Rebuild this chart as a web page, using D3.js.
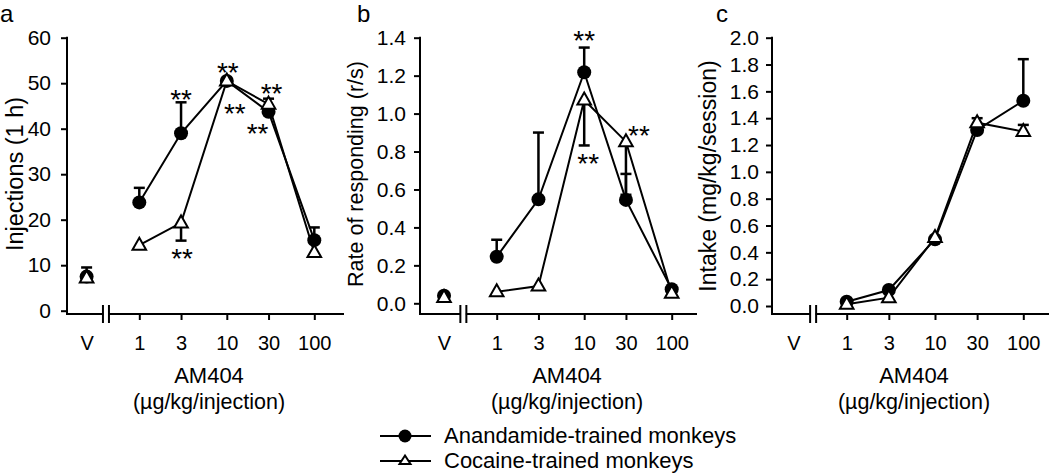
<!DOCTYPE html>
<html>
<head>
<meta charset="utf-8">
<script src="https://cdn.jsdelivr.net/npm/d3@7"></script>
<style>
  body { margin: 0; background: #fff; }
  text { font-family: "Liberation Sans", Arial, sans-serif; fill: #000; }
</style>
</head>
<body>
<script>
// doses; the vehicle (V) is plotted at 0.25 on the log axis
const doses = [0.25, 1, 3, 10, 30, 100];
const doseLabels = ['V', '1', '3', '10', '30', '100'];

// panel a: injections (1 h); errors are one-sided (sign = direction)
const injAnand = [7.5, 23.8, 39.0, 50.5, 43.7, 15.5];
const injAnandErr = [2.0, 3.2, 6.8, 0, 0, 2.8];
const injCoc = [7.2, 14.4, 19.3, 50.5, 45.4, 12.8];
const injCocErr = [0, 0, -3.9, 0, 1.2, 0];

// panel b: rate of responding (r/s)
const rateAnand = [0.04, 0.245, 0.548, 1.218, 0.545, 0.074];
const rateAnandErr = [0, 0.09, 0.352, 0.13, 0.137, 0];
const rateCoc = [0.03, 0.061, 0.091, 1.072, 0.852, 0.053];
const rateCocErr = [0, 0, 0, -0.24, -0.28, 0];

// panel c: intake (mg/kg/session), no vehicle value
const intakeAnand = [null, 0.032, 0.119, 0.497, 1.312, 1.53];
const intakeAnandErr = [0, 0, 0, 0, 0, 0.31];
const intakeCoc = [null, 0.013, 0.062, 0.51, 1.366, 1.30];
const intakeCocErr = [0, 0, 0, 0, 0.034, 0.05];

// significance marks: [dose, value, x nudge]
const starsA = [[3, 47.8, 0], [3, 12.9, 1], [10, 53.8, 1], [10, 44.8, 8], [30, 49.2, 3], [30, 40.4, -11]];
const starsB = [[10, 1.42, 0], [10, 0.773, 4], [30, 0.922, 13]];
const starsC = [];

const seriesNames = ['Anandamide-trained monkeys', 'Cocaine-trained monkeys'];

const W = 1050, H = 475;
const axisY = 314;

const svg = d3.select('body').append('svg')
  .attr('width', W)
  .attr('height', H);

const panels = [
  { letter: 'a', lx: 0, x0: 67, xr: [139.3, 314.3], dom: [0, 60], yr: [310.7, 37.7],
    ticks: d3.range(0, 61, 10), fmt: d3.format('d'), pad: 10,
    title: 'Injections (1 h)', tfs: 23.5, tx: 23, ty: 174, cx: 209,
    anand: injAnand, anandErr: injAnandErr, coc: injCoc, cocErr: injCocErr, stars: starsA },
  { letter: 'b', lx: 357, x0: 420, xr: [496.7, 671.7], dom: [0, 1.4], yr: [303.3, 37.7],
    ticks: d3.range(0, 1.41, 0.2), fmt: d3.format('.1f'), pad: 8,
    title: 'Rate of responding (r/s)', tfs: 21.5, tx: 363, ty: 174, cx: 567,
    anand: rateAnand, anandErr: rateAnandErr, coc: rateCoc, cocErr: rateCocErr, stars: starsB },
  { letter: 'c', lx: 716, x0: 772, xr: [846.7, 1023.3], dom: [0, 2.0], yr: [306, 37.7],
    ticks: d3.range(0, 2.01, 0.2), fmt: d3.format('.1f'), pad: 7,
    title: 'Intake (mg/kg/session)', tfs: 23, tx: 716, ty: 176, cx: 914,
    anand: intakeAnand, anandErr: intakeAnandErr, coc: intakeCoc, cocErr: intakeCocErr, stars: starsC }
];

const triPath = 'M0,-7.5L6.8,4.5L-6.8,4.5Z';

function drawPanel(p) {
  const g = svg.append('g');
  const x = d3.scaleLog().domain([1, 100]).range(p.xr);
  const y = d3.scaleLinear().domain(p.dom).range(p.yr);
  const xEnd = p.x0 + 277;

  // panel letter
  g.append('text')
    .attr('x', p.lx).attr('y', 22)
    .style('font-size', '24px')
    .text(p.letter);

  // y axis
  const yAxis = g.append('g')
    .attr('transform', `translate(${p.x0},0)`)
    .call(d3.axisLeft(y).tickValues(p.ticks).tickFormat(p.fmt).tickSize(6).tickPadding(p.pad));
  yAxis.select('.domain').remove();
  yAxis.selectAll('line').attr('stroke', '#000').attr('stroke-width', 2);
  yAxis.selectAll('text').style('font-size', '21px').attr('font-family', null);

  g.append('line')
    .attr('x1', p.x0).attr('x2', p.x0)
    .attr('y1', y(p.dom[1]) - 1).attr('y2', axisY + 1)
    .attr('stroke', '#000').attr('stroke-width', 2);

  // x axis
  const xAxis = g.append('g')
    .attr('transform', `translate(0,${axisY})`)
    .call(d3.axisBottom(x).tickValues(doses).tickFormat((d, i) => doseLabels[i]).tickSize(6).tickPadding(16));
  xAxis.select('.domain').remove();
  xAxis.selectAll('line').attr('stroke', '#000').attr('stroke-width', 2);
  xAxis.selectAll('.tick').filter(d => d === doses[0]).select('line').remove();
  xAxis.selectAll('text').style('font-size', '20px').attr('font-family', null);

  g.append('line')
    .attr('x1', p.x0).attr('x2', xEnd)
    .attr('y1', axisY).attr('y2', axisY)
    .attr('stroke', '#000').attr('stroke-width', 2);

  // axis break
  const bx = (x(doses[0]) + x(1)) / 2 - 7;
  g.append('rect')
    .attr('x', bx - 2.5).attr('y', axisY - 3).attr('width', 5).attr('height', 6)
    .attr('fill', '#fff');
  [bx - 3, bx + 3].forEach(v => {
    g.append('line')
      .attr('x1', v).attr('x2', v)
      .attr('y1', axisY - 9).attr('y2', axisY + 9)
      .attr('stroke', '#000').attr('stroke-width', 2);
  });

  // axis titles
  g.append('text')
    .attr('transform', `translate(${p.tx},${p.ty}) rotate(-90)`)
    .attr('text-anchor', 'middle')
    .style('font-size', p.tfs + 'px')
    .text(p.title);
  g.append('text')
    .attr('x', p.cx).attr('y', 383)
    .attr('text-anchor', 'middle')
    .style('font-size', '22px')
    .text('AM404');
  g.append('text')
    .attr('x', p.cx).attr('y', 409)
    .attr('text-anchor', 'middle')
    .style('font-size', '21.5px')
    .text('(\u00b5g/kg/injection)');

  const series = [
    { vals: p.anand, err: p.anandErr, mark: 'circle' },
    { vals: p.coc, err: p.cocErr, mark: 'tri' }
  ];

  const line = d3.line()
    .defined(d => d.v !== null)
    .x(d => x(d.dose))
    .y(d => y(d.v));

  series.forEach(s => {
    const pts = doses.map((d, i) => ({ dose: d, v: s.vals[i], e: s.err[i] }));
    g.append('path')
      .datum(pts.slice(1))
      .attr('d', line)
      .attr('fill', 'none')
      .attr('stroke', '#000')
      .attr('stroke-width', 2);
    s.pts = pts;
  });

  series.forEach(s => {
    s.pts.filter(d => d.v !== null && d.e).forEach(d => {
      const xe = x(d.dose), y1 = y(d.v), y2 = y(d.v + d.e);
      g.append('line')
        .attr('x1', xe).attr('x2', xe).attr('y1', y1).attr('y2', y2)
        .attr('stroke', '#000').attr('stroke-width', 2.5);
      g.append('line')
        .attr('x1', xe - 5.5).attr('x2', xe + 5.5).attr('y1', y2).attr('y2', y2)
        .attr('stroke', '#000').attr('stroke-width', 2.5);
    });
  });

  series.forEach(s => {
    const pts = s.pts.filter(d => d.v !== null);
    if (s.mark === 'circle') {
      g.selectAll(null).data(pts).enter().append('circle')
        .attr('cx', d => x(d.dose)).attr('cy', d => y(d.v))
        .attr('r', 7).attr('fill', '#000');
    } else {
      g.selectAll(null).data(pts).enter().append('path')
        .attr('d', triPath)
        .attr('transform', d => `translate(${x(d.dose)},${y(d.v)})`)
        .attr('fill', '#fff').attr('stroke', '#000').attr('stroke-width', 2);
    }
  });

  p.stars.forEach(st => {
    g.append('text')
      .attr('x', x(st[0]) + st[2]).attr('y', y(st[1]))
      .attr('dy', '0.58em')
      .attr('text-anchor', 'middle')
      .style('font-size', '28px')
      .text('**');
  });
}

panels.forEach(drawPanel);

// legend
const legend = svg.append('g').attr('transform', 'translate(380,436)');
seriesNames.forEach((name, i) => {
  const row = legend.append('g').attr('transform', `translate(0,${i * 25})`);
  row.append('line')
    .attr('x1', 0).attr('x2', 51).attr('y1', 0).attr('y2', 0)
    .attr('stroke', '#000').attr('stroke-width', 2);
  if (i === 0) {
    row.append('circle').attr('cx', 25).attr('cy', 0).attr('r', 6.5).attr('fill', '#000');
  } else {
    row.append('path')
      .attr('d', 'M0,-5.5L5.5,3L-5.5,3Z')
      .attr('transform', 'translate(25,0)')
      .attr('fill', '#fff').attr('stroke', '#000').attr('stroke-width', 2);
  }
  row.append('text')
    .attr('x', 64).attr('y', 6.5)
    .style('font-size', '22px')
    .text(name);
});
</script>
</body>
</html>
